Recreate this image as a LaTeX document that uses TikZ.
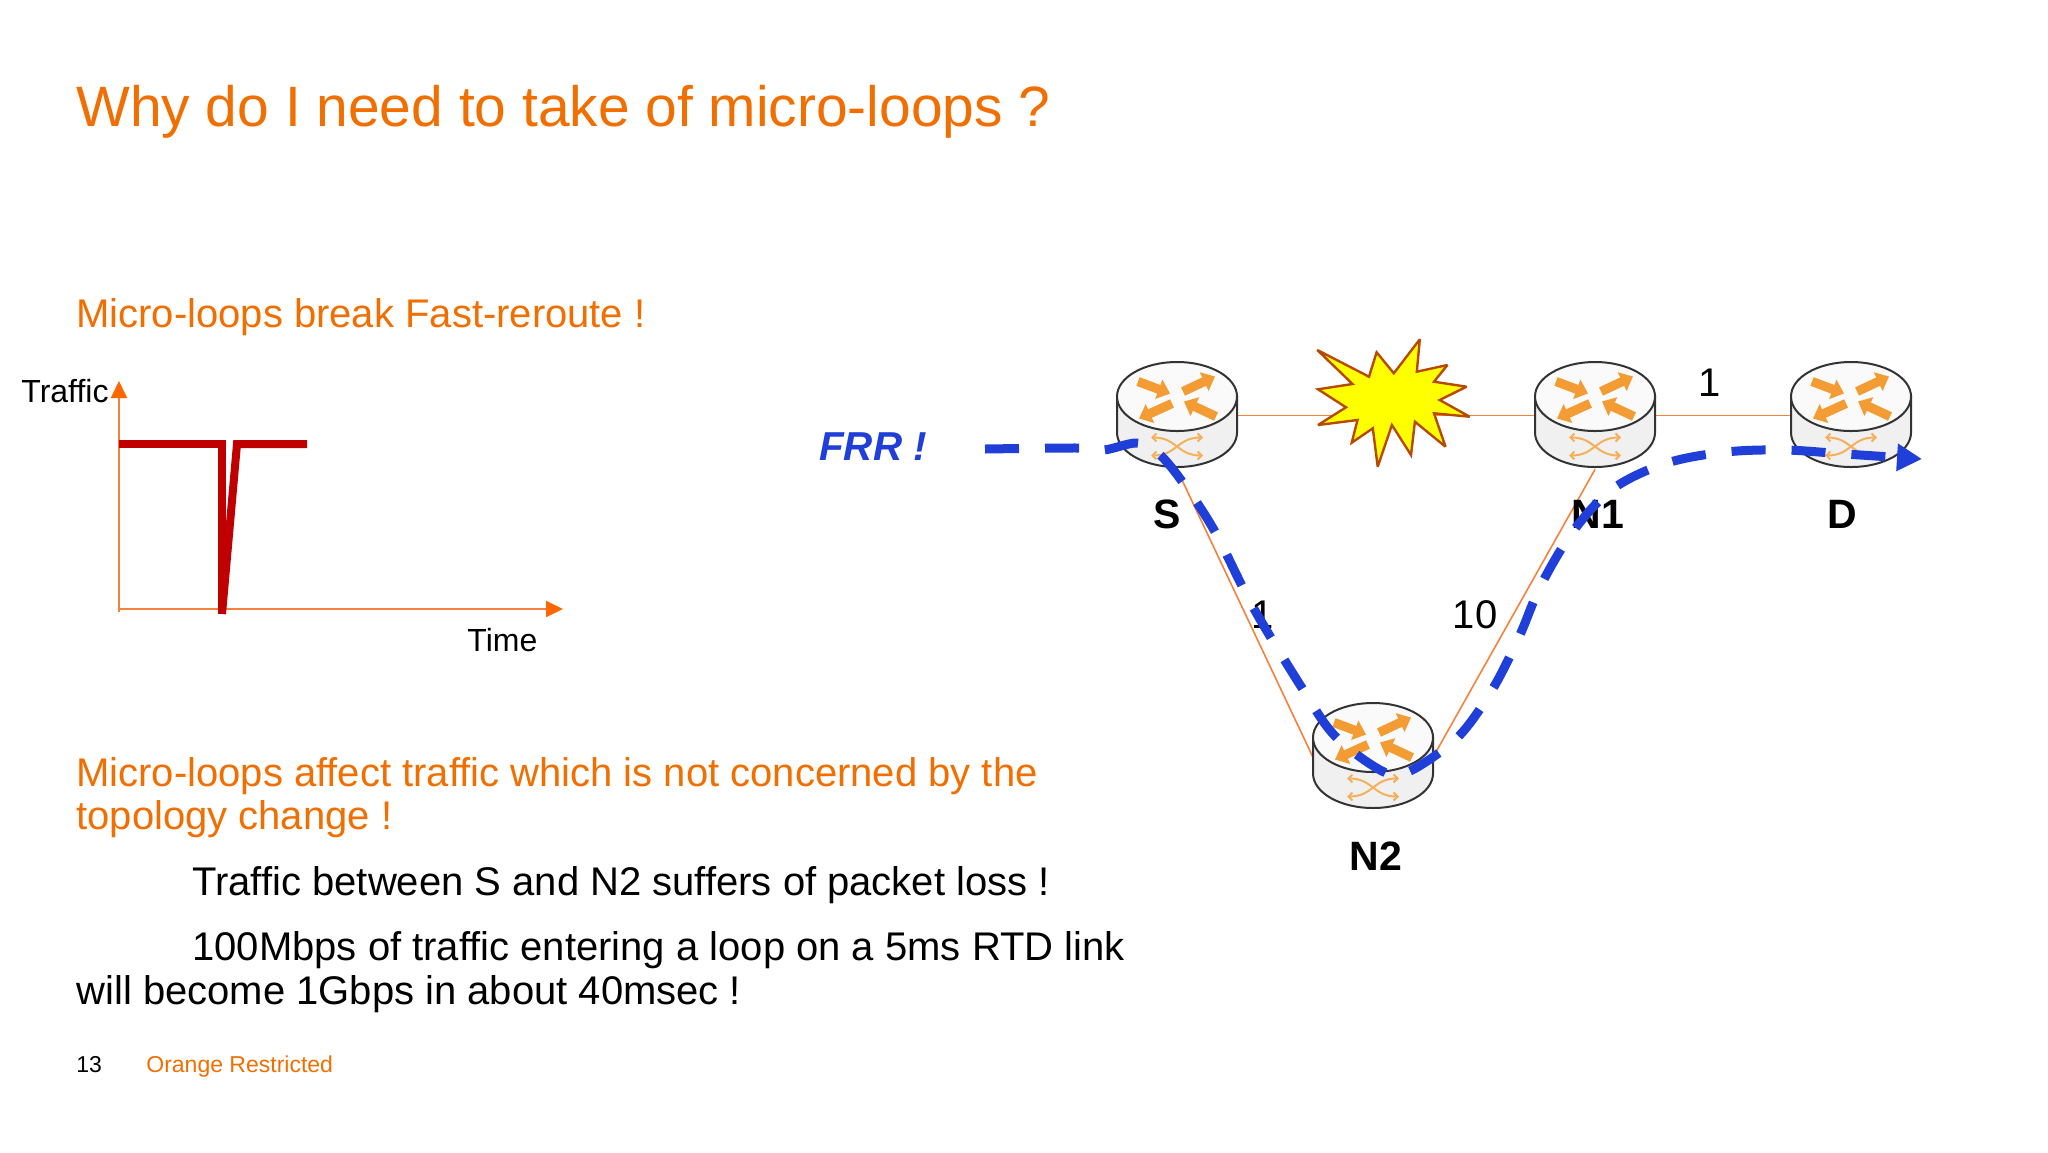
\documentclass[tikz,border=0pt]{standalone}
\usepackage{xcolor}
\usepackage{fontspec}
\setmainfont{Liberation Sans}
\usetikzlibrary{arrows.meta, positioning}

\definecolor{slideorange}{HTML}{F16E00}
\definecolor{linkorange}{HTML}{F4823C}
\definecolor{tiporange}{HTML}{FF6600}
\definecolor{iconorange}{HTML}{F39C33}
\definecolor{frrblue}{HTML}{1F3FD8}
\definecolor{dipred}{HTML}{C00000}
\definecolor{starrim}{HTML}{B84A00}
\definecolor{staryellow}{HTML}{FFFF00}

\tikzset{
    routerarrow/.style={iconorange, line width=4.6pt, -{Triangle[length=6pt,width=10pt]}},
    crossarrow/.style={iconorange!80, line width=1pt, {Straight Barb[length=2pt,width=4pt]}-{Straight Barb[length=2pt,width=4pt]}},
    routericon/.pic={
        \draw[black!80, line width=1pt, fill=black!6] (-60,-19) -- (-60,17) arc[start angle=180, end angle=0, x radius=60, y radius=34.5] -- (60,-19) -- cycle;
        \draw[black!80, line width=1pt, fill=white!98!black] (0,-19) ellipse[x radius=60, y radius=34.5];
        \draw[routerarrow] (-39,-34) -- (-7,-22);
        \draw[routerarrow] (6,-24) -- (38,-39);
        \draw[routerarrow] (-5,-12) -- (-38,3);
        \draw[routerarrow] (39,1) -- (7,-14);
        \draw[crossarrow] (-26,22) .. controls (0,22) and (0,40) .. (26,40);
        \draw[crossarrow] (-26,40) .. controls (0,40) and (0,22) .. (26,22);
    }
}

\begin{document}
\begin{tikzpicture}[
    x=0.5pt, y=-0.5pt,
    slidetext/.style={anchor=base west, inner sep=0pt, font=\fontsize{20}{24}\selectfont},
    headtext/.style={slidetext, text=slideorange},
    routerbox/.style={rectangle, inner sep=0pt, minimum width=60pt, minimum height=53.5pt},
    routername/.style={inner sep=0pt, font=\fontsize{20.5}{24}\selectfont\bfseries},
    linkcost/.style={inner sep=0pt, font=\fontsize{20}{24}\selectfont},
    axislabel/.style={inner sep=0pt, font=\fontsize{16}{19}\selectfont},
    axisline/.style={linkorange, line width=1pt, -{Triangle[length=8.5pt,width=8pt,color=tiporange]}},
    linkline/.style={linkorange, line width=0.8pt},
    dipline/.style={dipred, line width=4pt},
    frrline/.style={frrblue, line width=4.5pt, dash pattern=on 17pt off 13pt, -{Triangle[length=12.5pt,width=13pt]}}
]
\useasboundingbox (0,0) rectangle (2048,1152);

% slide text
\node[headtext, font=\fontsize{28.45}{34}\selectfont] (title) at (76,126) {Why do I need to take of micro-loops ?};
\node[headtext] (breaks) at (76,327) {Micro-loops break Fast-reroute !};
\node[headtext] (affects) at (76,786) {Micro-loops affect traffic which is not concerned by the};
\node[headtext] (topology) at (76,829) {topology change !};
\node[slidetext] (loss) at (192,895) {Traffic between S and N2 suffers of packet loss !};
\node[slidetext] (rate) at (192,960) {100Mbps of traffic entering a loop on a 5ms RTD link};
\node[slidetext] (become) at (76,1004) {will become 1Gbps in about 40msec !};
\node[slidetext, font=\fontsize{11.5}{14}\selectfont] (page) at (76,1072) {13};
\node[headtext, font=\fontsize{11.5}{14}\selectfont] (restricted) at (146,1072) {Orange Restricted};

% traffic chart
\coordinate (origin) at (119,609);
\coordinate (yend) at (119,381);
\coordinate (xend) at (563,609);
\draw[axisline] (119,612) -- (yend);
\draw[axisline] (origin) -- (xend);
\node[axislabel, anchor=base west] (traffic) at (21,402) {Traffic};
\node[axislabel, anchor=base west] (timelabel) at (467,651) {Time};
\draw[dipline] (119,444) -- (222,444) -- (222,614);
\draw[dipline] (222,614) -- (237,444) -- (307,444);

% network
\node[routerbox] (S) at (1177,415.5) {};
\node[routerbox] (N1) at (1595,415.5) {};
\node[routerbox] (D) at (1851,415.5) {};
\node[routerbox] (N2) at (1373,756.5) {};

\draw[linkline] (S) -- (N1);
\draw[linkline] (N1) -- (D);
\draw[linkline] (S.south) -- (N2.west);
\draw[linkline] (N1.south) -- (N2.east);

\pic at (S) {routericon};
\pic at (N1) {routericon};
\pic at (D) {routericon};
\pic at (N2) {routericon};

\draw[draw=starrim, line width=1.2pt, miter limit=3, fill=staryellow] (1317.3,350) -- (1369,376.7) -- (1376.6,352.3) -- (1393.8,373.3) -- (1419.8,339.3) -- (1416.8,371.7) -- (1447.4,365) -- (1434,381.7) -- (1466.5,386.7) -- (1439.7,400) -- (1469.6,416.7) -- (1434,413.3) -- (1445.5,446.7) -- (1414.9,421.7) -- (1411,455) -- (1391.9,425) -- (1377.7,466.7) -- (1372.8,428.3) -- (1351.7,442.7) -- (1357.5,420) -- (1318,425) -- (1346,407.3) -- (1318,389.3) -- (1352.5,384) -- cycle;

\node[routername, below=15pt of S, xshift=-5pt] (Sname) {S};
\node[routername, below=15pt of N1, xshift=1.5pt] (N1name) {N1};
\node[routername, below=15pt of D, xshift=-4.5pt] (Dname) {D};
\node[routername, below=15.5pt of N2, xshift=1.5pt] (N2name) {N2};

\node[linkcost] (costD) at (1710,383) {1};
\node[linkcost] (costS) at (1263,615) {1};
\node[linkcost] (costN) at (1475,615) {10};

% fast reroute path
\node[font=\fontsize{20.2}{24}\selectfont\bfseries\itshape, text=frrblue, inner sep=0pt] (frr) at (873,447) {FRR !};
\coordinate (frrstart) at (985,449);
\coordinate (frrend) at (1922,459);
\draw[frrline] plot[smooth, tension=0.55] coordinates {(frrstart) (1079,448) (1104,450) (1137,443) (1158,453) (1181,480) (1214,530) (1253,607) (1302,688) (1335,736) (1382,771) (1408,772) (1457,738) (1492,690) (1519,637) (1541,585) (1574,530) (1614,488) (1667,463) (1726,452) (1785,450) (1845,454) (frrend)};

\end{tikzpicture}
\end{document}
